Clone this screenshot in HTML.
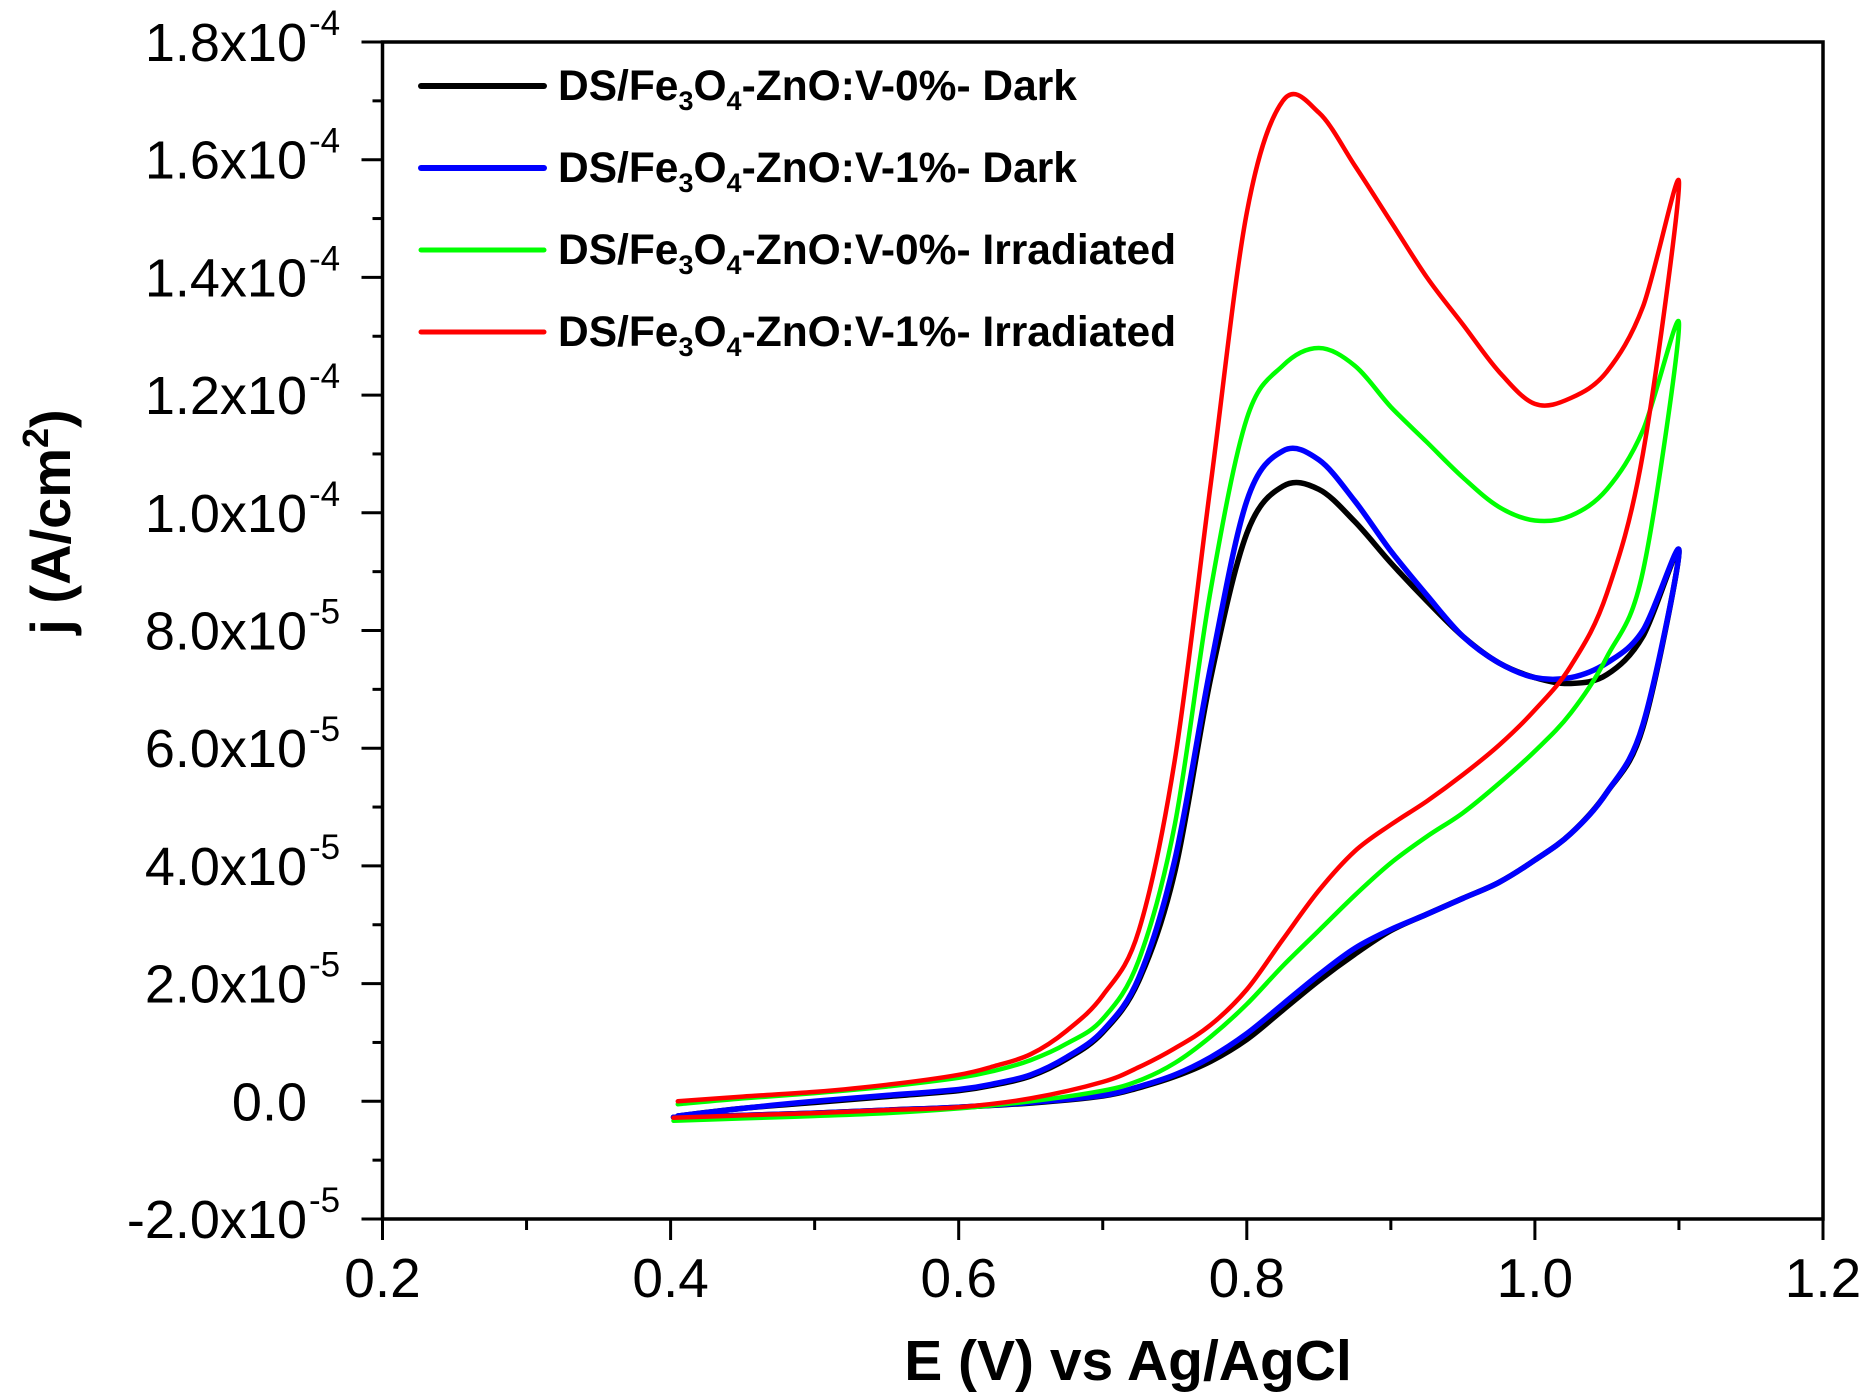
<!DOCTYPE html>
<html><head><meta charset="utf-8"><style>
html,body{margin:0;padding:0;background:#fff;}
svg{display:block;font-family:"Liberation Sans",Arial,sans-serif;}
</style></head><body>
<svg id="chart" width="1871" height="1397" viewBox="0 0 1871 1397" xmlns="http://www.w3.org/2000/svg">
<rect x="0" y="0" width="1871" height="1397" fill="#fff"/>
<g id="axes"></g>
<g id="series"></g>
<g id="legend"></g>
<text x="1128" y="1380" font-size="57" font-weight="bold" text-anchor="middle">E (V) vs Ag/AgCl</text>
<text transform="translate(70,522) rotate(-90)" font-size="56" font-weight="bold" text-anchor="middle">j (A/cm<tspan font-size="36" dy="-22">2</tspan><tspan dy="22">)</tspan></text>
</svg>
<script>
// data (potential in V, current in units of 1e-5 A/cm2)
const seriesNames = ["DS/Fe3O4-ZnO:V-0%- Dark","DS/Fe3O4-ZnO:V-1%- Dark","DS/Fe3O4-ZnO:V-0%- Irradiated","DS/Fe3O4-ZnO:V-1%- Irradiated"];
const seriesColors = ["#000000","#0000ff","#00ff00","#ff0000"];
const forwardE = [0.405,0.45,0.5,0.55,0.6,0.625,0.65,0.675,0.7,0.725,0.75,0.775,0.8,0.825,0.85,0.875,0.9,0.925,0.95,0.975,1.0,1.025,1.05,1.075,1.1];
const reverseE = [1.075,1.05,1.025,1.0,0.975,0.95,0.925,0.9,0.875,0.85,0.825,0.8,0.775,0.75,0.725,0.7,0.65,0.6,0.55,0.5,0.45,0.402];
const blackFwd = [-0.25,-0.12,-0.02,0.08,0.18,0.28,0.43,0.72,1.17,2.05,3.9,7.2,9.65,10.45,10.4,9.85,9.15,8.5,7.9,7.45,7.2,7.1,7.25,7.9,9.35];
const blackRev = [6.35,5.25,4.55,4.1,3.72,3.45,3.18,2.9,2.5,2.05,1.55,1.05,0.68,0.42,0.23,0.09,-0.03,-0.1,-0.15,-0.2,-0.24,-0.27];
const blueFwd = [-0.25,-0.12,0.0,0.1,0.2,0.3,0.45,0.75,1.2,2.1,4.1,7.4,10.2,11.05,10.9,10.2,9.35,8.6,7.9,7.45,7.2,7.2,7.45,8.0,9.35];
const blueRev = [6.4,5.25,4.55,4.1,3.72,3.45,3.18,2.92,2.6,2.15,1.65,1.15,0.75,0.45,0.25,0.1,-0.02,-0.1,-0.15,-0.2,-0.24,-0.27];
const greenFwd = [-0.05,0.05,0.14,0.25,0.4,0.52,0.7,0.98,1.4,2.4,4.7,8.7,11.6,12.5,12.8,12.5,11.8,11.2,10.6,10.1,9.87,9.95,10.4,11.4,13.2];
const greenRev = [9.0,7.55,6.6,5.95,5.4,4.9,4.5,4.05,3.5,2.9,2.3,1.65,1.1,0.65,0.35,0.18,0.0,-0.12,-0.2,-0.25,-0.29,-0.33];
const redFwd = [0.0,0.08,0.16,0.28,0.45,0.6,0.8,1.2,1.8,2.9,5.8,10.5,15.1,17.0,16.8,15.9,14.95,14.0,13.2,12.4,11.85,11.95,12.4,13.5,15.6];
const redRev = [11.0,8.63,7.4,6.65,6.05,5.55,5.1,4.7,4.25,3.58,2.75,1.9,1.3,0.9,0.58,0.33,0.05,-0.1,-0.15,-0.2,-0.24,-0.28];
const xTicks = [0.2,0.4,0.6,0.8,1.0,1.2];
const xTickLabels = ["0.2","0.4","0.6","0.8","1.0","1.2"];
const yTicks = [-2,0,2,4,6,8,10,12,14,16,18];
const yTickMant = ["-2.0x10","0.0","2.0x10","4.0x10","6.0x10","8.0x10","1.0x10","1.2x10","1.4x10","1.6x10","1.8x10"];
const yTickExp = ["-5","","-5","-5","-5","-5","-4","-4","-4","-4","-4"];

const NS="http://www.w3.org/2000/svg";
const L=382.5,R=1823,T=42,B=1219;
const X=v=>L+(v-0.2)/(1.2-0.2)*(R-L);
const Y=v=>B-(v+2)/(18+2)*(B-T);
function mk(tag,attrs,parent){const e=document.createElementNS(NS,tag);for(const k in attrs)e.setAttribute(k,attrs[k]);parent.appendChild(e);return e;}
const axes=document.getElementById('axes');
let f=mk('rect',{x:L,y:T,width:R-L,height:B-T,fill:'none',stroke:'#000','stroke-width':3.5},axes);


for(let i=0;i<xTicks.length;i++){
  const x=X(xTicks[i]);
  let t=mk('line',{x1:x,x2:x,y1:B,y2:B+21,stroke:'#000','stroke-width':3},axes);
  
  
  let lb=mk('text',{x:x,y:1297,'font-size':55,'text-anchor':'middle'},axes);
  lb.textContent=xTickLabels[i];
  
  
  if(i<xTicks.length-1){
    const xm=X(xTicks[i]+0.1);
    let m=mk('line',{x1:xm,x2:xm,y1:B,y2:B+11,stroke:'#000','stroke-width':3},axes);
    
    
  }
}
for(let i=0;i<yTicks.length;i++){
  const y=Y(yTicks[i]);
  let t=mk('line',{x1:L-21,x2:L,y1:y,y2:y,stroke:'#000','stroke-width':3},axes);
  
  
  const lb=mk('text',{x:307,y:y+19,'font-size':54,'text-anchor':'end'},axes);
  lb.textContent=yTickMant[i];
  
  
  if(yTickExp[i]){
    const ex=mk('text',{x:309,y:y-7,'font-size':35,'text-anchor':'start'},axes);
    ex.textContent=yTickExp[i];
    
    
  }
  if(i<yTicks.length-1){
    const ym=Y(yTicks[i]+1);
    let m=mk('line',{x1:L-10,x2:L,y1:ym,y2:ym,stroke:'#000','stroke-width':3},axes);
    
    
  }
}
function smooth(E,J){
  const p=E.map((e,i)=>[X(e),Y(J[i])]);
  let d='M'+p[0][0]+','+p[0][1];
  for(let i=0;i<p.length-1;i++){
    const p0=p[Math.max(0,i-1)],p1=p[i],p2=p[i+1],p3=p[Math.min(p.length-1,i+2)];
    const c1=[p1[0]+(p2[0]-p0[0])/6,p1[1]+(p2[1]-p0[1])/6];
    const c2=[p2[0]-(p3[0]-p1[0])/6,p2[1]-(p3[1]-p1[1])/6];
    d+=' C'+c1[0].toFixed(1)+','+c1[1].toFixed(1)+' '+c2[0].toFixed(1)+','+c2[1].toFixed(1)+' '+p2[0].toFixed(1)+','+p2[1].toFixed(1);
  }
  return d;
}
const sg=document.getElementById('series');
const data=[[blackFwd,blackRev,5.5,'series-v0-dark'],[blueFwd,blueRev,5.5,'series-v1-dark'],[greenFwd,greenRev,4.5,'series-v0-irradiated'],[redFwd,redRev,4.5,'series-v1-irradiated']];
data.forEach((s,i)=>{
  const pth=mk('path',{d:smooth(forwardE.concat(reverseE),s[0].concat(s[1])),fill:'none',stroke:seriesColors[i],'stroke-width':s[2],'stroke-linejoin':'round','stroke-linecap':'round'},sg);
  
  
});
const lg=document.getElementById('legend');
const legY=[86,168,250,332];
const legPct=["0%- Dark","1%- Dark","0%- Irradiated","1%- Irradiated"];
for(let i=0;i<4;i++){
  const ln=mk('line',{x1:421,x2:544,y1:legY[i],y2:legY[i],stroke:seriesColors[i],'stroke-width':i<2?6:5,'stroke-linecap':'round'},lg);
  
  
  const tx=mk('text',{x:558,y:legY[i]+14,'font-size':42.5,'font-weight':'bold'},lg);
  tx.innerHTML='DS/Fe<tspan font-size="27" dy="10">3</tspan><tspan dy="-10">O</tspan><tspan font-size="27" dy="10">4</tspan><tspan dy="-10">-ZnO:V-'+legPct[i]+'</tspan>';
  
  
}
</script>
</body></html>
